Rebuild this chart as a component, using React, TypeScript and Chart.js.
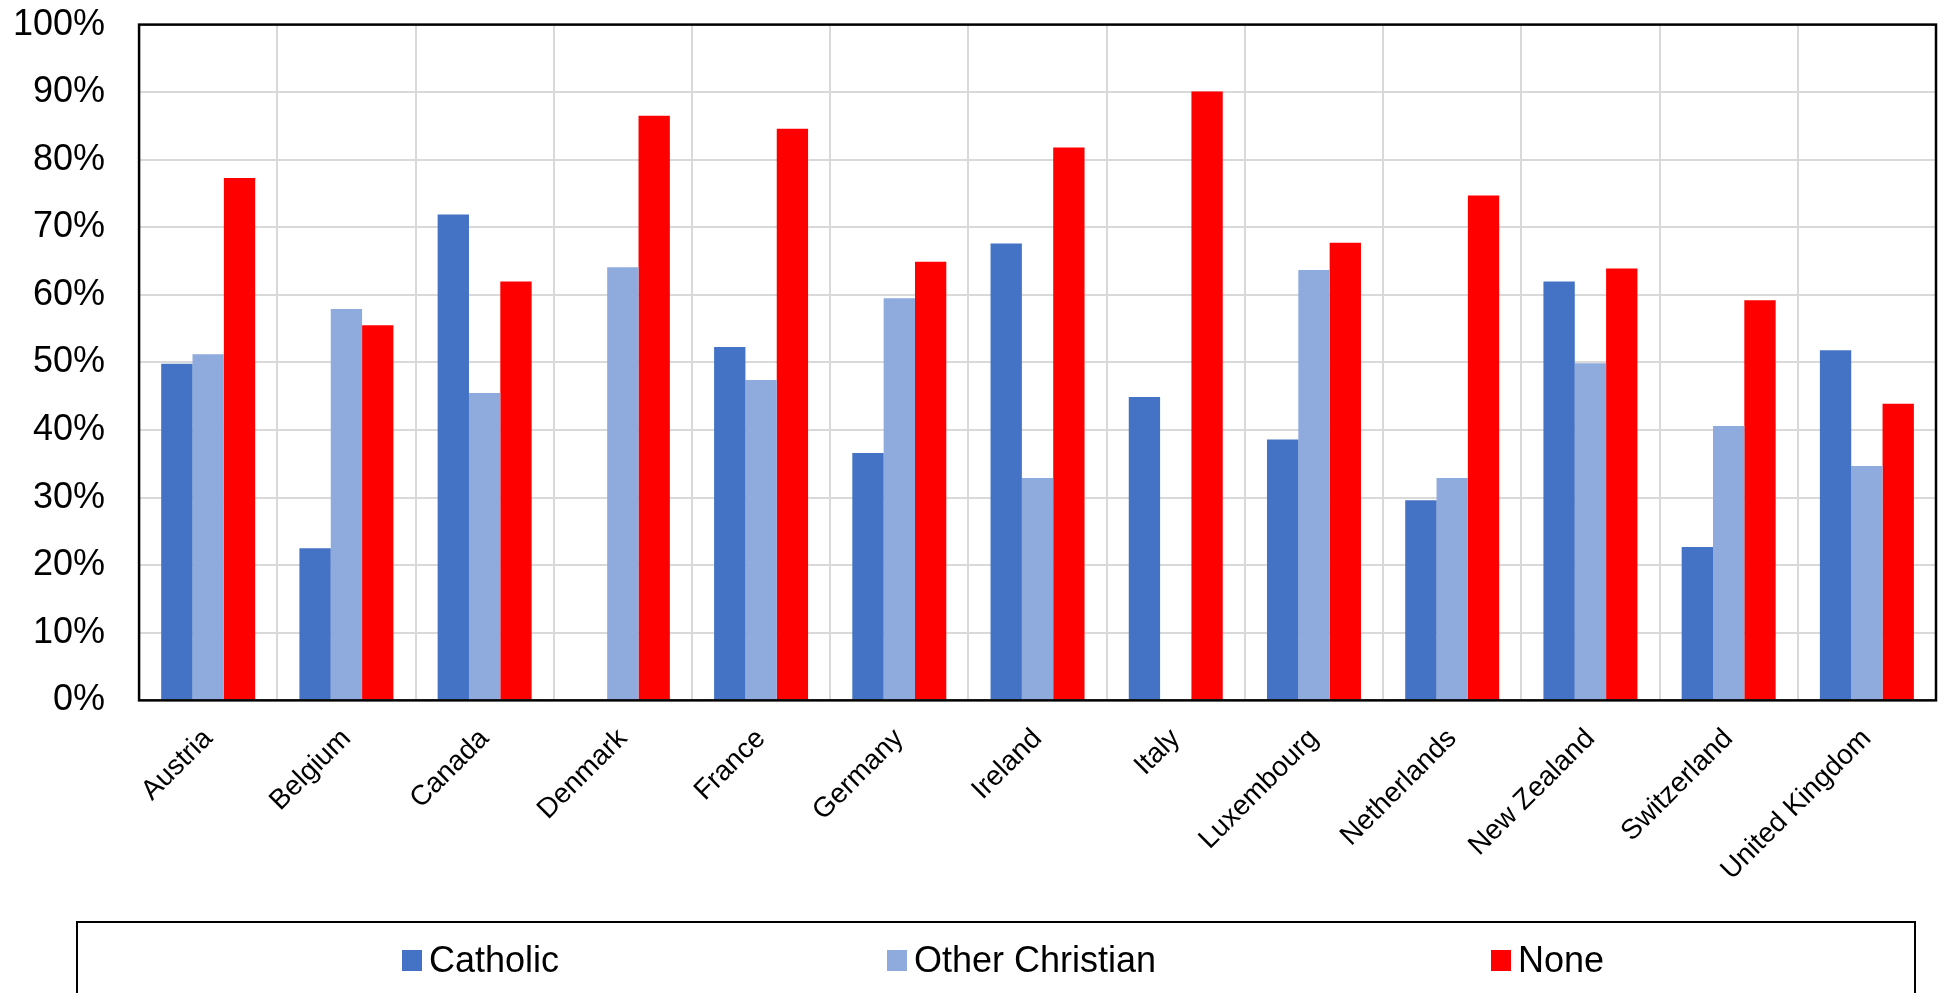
import React, { useEffect, useRef } from "react";
import { Chart, registerables } from "chart.js";

Chart.register(...registerables);

const countries = [
  "Austria", "Belgium", "Canada", "Denmark", "France", "Germany", "Ireland",
  "Italy", "Luxembourg", "Netherlands", "New Zealand", "Switzerland", "United Kingdom",
];
const catholic = [49.8, 22.5, 71.9, 0, 52.3, 36.6, 67.6, 44.9, 38.6, 29.6, 62.0, 22.7, 51.8];
const otherChristian = [51.2, 57.9, 45.5, 64.1, 47.4, 59.5, 32.9, 0, 63.7, 32.9, 49.9, 40.6, 34.7];
const none = [77.3, 55.5, 62.0, 86.5, 84.6, 64.9, 81.8, 90.1, 67.7, 74.7, 63.9, 59.2, 43.9];
const seriesNames = ["Catholic", "Other Christian", "None"];
const seriesColors = ["#4472C4", "#8FAADC", "#FF0000"];

const FONT = "'Liberation Sans', Arial, sans-serif";

const borderPlugin = {
  id: "plotBorder",
  afterDraw(chart: any) {
    const { ctx, chartArea } = chart;
    ctx.save();
    ctx.strokeStyle = "#000";
    ctx.lineWidth = 2.5;
    ctx.strokeRect(chartArea.left, chartArea.top, chartArea.right - chartArea.left, chartArea.bottom - chartArea.top);
    ctx.restore();
  },
};

export default function App() {
  const ref = useRef<HTMLCanvasElement | null>(null);

  useEffect(() => {
    document.body.style.margin = "0";
    const values = [catholic, otherChristian, none];
    const chart = new Chart(ref.current as HTMLCanvasElement, {
      type: "bar",
      data: {
        labels: countries,
        datasets: seriesNames.map((name, i) => ({
          label: name,
          data: values[i],
          backgroundColor: seriesColors[i],
          borderWidth: 0,
          categoryPercentage: 0.68,
          barPercentage: 1.0,
        })),
      },
      options: {
        animation: false,
        responsive: false,
        maintainAspectRatio: false,
        layout: { padding: { left: 13, right: 3, top: 4, bottom: 84 } },
        plugins: {
          legend: { display: false },
          tooltip: { enabled: false },
        },
        scales: {
          x: {
            grid: { color: "#d9d9d9", lineWidth: 2, drawTicks: false, offset: true },
            border: { display: false },
            ticks: {
              color: "#000",
              font: { family: FONT, size: 28 },
              minRotation: 45,
              maxRotation: 45,
              padding: 22,
            },
          },
          y: {
            min: 0,
            max: 100,
            grid: { color: "#d9d9d9", lineWidth: 2, drawTicks: false },
            border: { display: false },
            ticks: {
              stepSize: 10,
              color: "#000",
              font: { family: FONT, size: 36 },
              padding: 34,
              callback: (v: any) => v + "%",
            },
          },
        },
      },
      plugins: [borderPlugin],
    });
    return () => chart.destroy();
  }, []);

  const legendItems = [
    { name: seriesNames[0], color: seriesColors[0], left: 402 },
    { name: seriesNames[1], color: seriesColors[1], left: 887 },
    { name: seriesNames[2], color: seriesColors[2], left: 1491 },
  ];

  return (
    <div style={{ position: "relative", width: 1939, height: 993, overflow: "hidden", background: "#fff" }}>
      <canvas ref={ref} width={1973} height={1024} style={{ position: "absolute", left: -34, top: -31 }} />
      <div
        style={{
          position: "absolute",
          left: 76,
          top: 921,
          width: 1840,
          height: 120,
          border: "2.5px solid #000",
          boxSizing: "border-box",
        }}
      />
      {legendItems.map((it) => (
        <div
          key={it.name}
          style={{
            position: "absolute",
            left: it.left,
            top: 938,
            height: 44,
            display: "flex",
            alignItems: "center",
            fontFamily: FONT,
            fontSize: 36,
            color: "#000",
            whiteSpace: "nowrap",
          }}
        >
          <span style={{ display: "inline-block", width: 20, height: 21, background: it.color, marginRight: 7 }} />
          <span>{it.name}</span>
        </div>
      ))}
    </div>
  );
}
